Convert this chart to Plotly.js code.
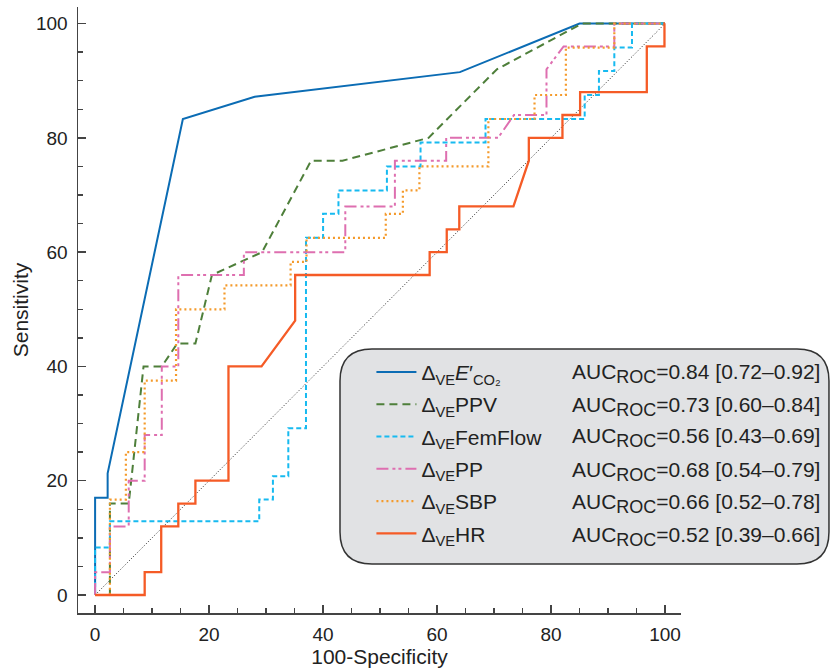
<!DOCTYPE html>
<html>
<head>
<meta charset="utf-8">
<script src="https://cdn.plot.ly/plotly-3.0.1.min.js"></script>
<style>html,body{margin:0;padding:0;background:#fff;}#chart{width:839px;height:669px;}</style>
</head>
<body>
<div id="chart"></div>
<script>
// ---- data (100-Specificity vs Sensitivity, %) ----
var diagX = [0, 100];
var diagY = [0, 100];

var etco2X = [0, 0, 2.2, 2.2, 15.4, 28, 64, 85, 100];
var etco2Y = [0, 17, 17, 21.3, 83.3, 87.2, 91.5, 100, 100];

var ppvX = [0, 2.6, 2.6, 5.9, 8.5, 11.7, 14.4, 17.6, 20.5, 29.3, 37.9, 43.4, 58.5, 70.5, 85.4, 100];
var ppvY = [0, 0, 16, 16, 40, 40, 44, 44, 56, 60, 76, 76, 80, 92, 100, 100];

var femX = [0, 0, 2.6, 2.6, 28.8, 28.8, 31.2, 31.2, 33.9, 33.9, 37, 37, 40, 40, 42.7, 42.7, 51.2, 51.2, 57.1, 57.1, 68.5, 68.5, 85.9, 85.9, 88.4, 88.4, 91.1, 91.1, 94.2, 94.2, 100];
var femY = [0, 8.3, 8.3, 12.9, 12.9, 16.7, 16.7, 20.8, 20.8, 29.2, 29.2, 62.5, 62.5, 66.7, 66.7, 70.8, 70.8, 75, 75, 79.2, 79.2, 83.3, 83.3, 87.5, 87.5, 91.7, 91.7, 95.8, 95.8, 100, 100];

var ppX = [0, 0, 2.6, 2.6, 5.9, 5.9, 8.7, 8.7, 11.7, 11.7, 14.6, 14.6, 26.1, 26.1, 43.9, 43.9, 52.6, 52.6, 61.6, 61.6, 70.7, 73.5, 79.2, 79.2, 82.2, 91.1, 91.1, 100];
var ppY = [0, 4, 4, 12, 12, 20, 20, 28, 28, 40, 40, 56, 56, 60, 60, 68, 68, 76, 76, 80, 80, 84, 84, 92, 96, 96, 100, 100];

var sbpX = [0, 2.6, 2.6, 5.4, 5.4, 8.7, 8.7, 14.2, 14.2, 22.7, 22.7, 34.3, 34.3, 37.1, 37.1, 51, 51, 54, 54, 56.9, 56.9, 69, 69, 77.1, 77.1, 82.6, 82.6, 91.1, 91.1, 100];
var sbpY = [0, 0, 16.7, 16.7, 25, 25, 37.5, 37.5, 50, 50, 54.2, 54.2, 58.3, 58.3, 62.5, 62.5, 66.7, 66.7, 70.8, 70.8, 75, 75, 83.3, 83.3, 87.5, 87.5, 95.8, 95.8, 100, 100];

var hrX = [0, 8.7, 8.7, 11.6, 11.6, 14.6, 14.6, 17.6, 17.6, 23.4, 23.4, 29.2, 35.1, 35.1, 58.7, 58.7, 61.7, 61.7, 63.9, 63.9, 73.4, 76.1, 76.1, 82, 82, 85.1, 85.1, 96.8, 96.8, 99.9, 99.9, 100];
var hrY = [0, 0, 4, 4, 12, 12, 16, 16, 20, 20, 40, 40, 48, 56, 56, 60, 60, 64, 64, 68, 68, 76, 80, 80, 84, 84, 88, 88, 96, 96, 100, 100];

var seriesNames = [
  'Δ<sub>VE</sub><i>E</i>′<sub>CO₂</sub>',
  'Δ<sub>VE</sub>PPV',
  'Δ<sub>VE</sub>FemFlow',
  'Δ<sub>VE</sub>PP',
  'Δ<sub>VE</sub>SBP',
  'Δ<sub>VE</sub>HR'
];
var aucValues = ['0.84', '0.73', '0.56', '0.68', '0.66', '0.52'];
var ciLow     = ['0.72', '0.60', '0.43', '0.54', '0.52', '0.39'];
var ciHigh    = ['0.92', '0.84', '0.69', '0.79', '0.78', '0.66'];

var xTickVals = [0, 20, 40, 60, 80, 100];
var yTickVals = [0, 20, 40, 60, 80, 100];

// ---- styles ----
var FONT = '"Liberation Sans", Arial, Helvetica, sans-serif';
var styles = [
  {color: '#0b6cb4', dash: 'solid', width: 2},
  {color: '#4e7f3a', dash: '8px,5px', width: 2},
  {color: '#17baf0', dash: '5px,3px', width: 2},
  {color: '#de6fb0', dash: '12px,4px,3px,3px,3px,4px', width: 2},
  {color: '#f49a2b', dash: '2px,3px', width: 2.2},
  {color: '#f55b26', dash: 'solid', width: 2.3}
];
var xs = [etco2X, ppvX, femX, ppX, sbpX, hrX];
var ys = [etco2Y, ppvY, femY, ppY, sbpY, hrY];

var traces = [{
  x: diagX, y: diagY, mode: 'lines', showlegend: false, hoverinfo: 'skip',
  line: {color: '#222', width: 1, dash: '1px,2px'}
}];
for (var i = 0; i < xs.length; i++) {
  traces.push({
    x: xs[i], y: ys[i], mode: 'lines', name: seriesNames[i],
    legendgroup: 'g' + i,
    line: {color: styles[i].color, width: styles[i].width, dash: styles[i].dash, shape: 'linear'}
  });
}

// rounded legend box (paper coords)
var X0 = 0.4345, X1 = 1.2454, Y0 = 0.0809, Y1 = 0.4356, RX = 32 / 603, RY = 32 / 606;
var boxPath = 'M' + (X0 + RX) + ',' + Y1 + ' L' + (X1 - RX) + ',' + Y1 +
  ' Q' + X1 + ',' + Y1 + ' ' + X1 + ',' + (Y1 - RY) +
  ' L' + X1 + ',' + (Y0 + RY) + ' Q' + X1 + ',' + Y0 + ' ' + (X1 - RX) + ',' + Y0 +
  ' L' + (X0 + RX) + ',' + Y0 + ' Q' + X0 + ',' + Y0 + ' ' + X0 + ',' + (Y0 + RY) +
  ' L' + X0 + ',' + (Y1 - RY) + ' Q' + X0 + ',' + Y1 + ' ' + (X0 + RX) + ',' + Y1 + ' Z';

var rowY = [0.396, 0.340, 0.289, 0.234, 0.181, 0.127];
var annotations = [];
for (var k = 0; k < aucValues.length; k++) {
  annotations.push({
    xref: 'paper', yref: 'paper', x: 0.816, y: rowY[k], xanchor: 'left', yanchor: 'middle',
    showarrow: false, align: 'left',
    text: 'AUC<sub><span style="font-size:18px">ROC</span></sub>=' + aucValues[k] + ' [' + ciLow[k] + '–' + ciHigh[k] + ']',
    font: {family: FONT, size: 21, color: '#222'}
  });
}

var axisCommon = {
  showgrid: false, zeroline: false, showline: true, linecolor: '#444', linewidth: 1.5,
  ticks: 'inside', ticklen: 8, tickwidth: 1.3, tickcolor: '#444',
  tickfont: {family: FONT, size: 19, color: '#222'},
  minor: {ticks: 'inside', dtick: 5, tick0: 0, ticklen: 5, tickwidth: 1.3, tickcolor: '#444', showgrid: false},
  automargin: false, fixedrange: true
};

var layout = {
  width: 839, height: 669,
  margin: {l: 78, r: 158, t: 7, b: 56},
  paper_bgcolor: '#fff', plot_bgcolor: '#fff',
  font: {family: FONT, size: 19, color: '#222'},
  xaxis: Object.assign({}, axisCommon, {
    range: [-3, 102.8], tickvals: xTickVals, ticklabelstandoff: 4,
    title: {text: '100-Specificity', font: {family: FONT, size: 21, color: '#222'}, standoff: 4}
  }),
  yaxis: Object.assign({}, axisCommon, {
    range: [-3.15, 102.9], tickvals: yTickVals, ticklabelstandoff: 5,
    title: {text: 'Sensitivity', font: {family: FONT, size: 21, color: '#222'}, standoff: 1}
  }),
  showlegend: true,
  legend: {
    x: 0.4866, y: 0.431, xanchor: 'left', yanchor: 'top',
    bgcolor: 'rgba(0,0,0,0)', borderwidth: 0, itemwidth: 40,
    tracegroupgap: 2, traceorder: 'grouped',
    font: {family: FONT, size: 21, color: '#222'}
  },
  shapes: [{
    type: 'path', xref: 'paper', yref: 'paper', path: boxPath, layer: 'above',
    fillcolor: '#e1e2e4', line: {color: '#333', width: 1.5}
  }],
  annotations: annotations
};

Plotly.newPlot('chart', traces, layout, {displayModeBar: false, staticPlot: true});
</script>
</body>
</html>
